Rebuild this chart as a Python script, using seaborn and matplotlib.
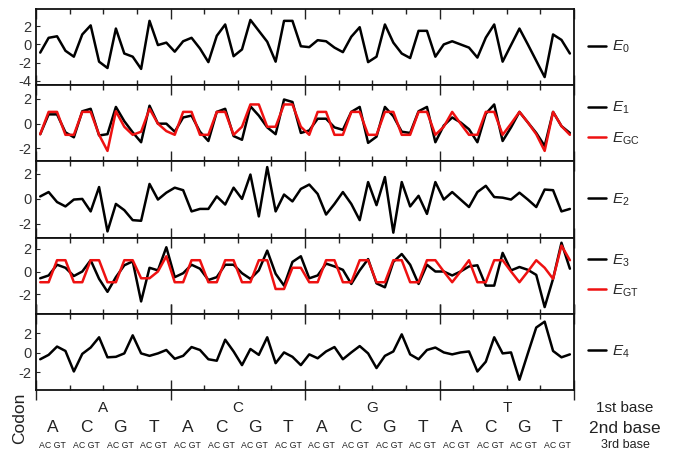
# Perfis de energia por códon (5 painéis empilhados)
import numpy as np
import pandas as pd
import matplotlib
matplotlib.use('Agg')
import matplotlib.pyplot as plt
import matplotlib.transforms as mtransforms
import seaborn as sns

bases = ['A', 'C', 'G', 'T']
codons = [b1 + b2 + b3 for b1 in bases for b2 in bases for b3 in bases]

e0 = [-0.9, 0.73, 0.9, -0.7, -1.35, 1.1, 2.1, -1.9, -2.6, 1.75,
      -1.0, -1.35, -2.7, 2.6, -0.07, 0.2, -0.8, 0.35, 0.73, -0.45,
      -1.95, 0.95, 2.2, -1.3, -0.55, 2.7, 1.5, 0.3, -1.9, 2.6,
      2.6, -0.2, -0.3, 0.47, 0.35, -0.35, -0.85, 0.85, 1.9, -1.95,
      -1.35, 2.2, 0.2, -1.0, -1.5, 1.5, 1.5, -1.35, 0.0, 0.35,
      0.0, -0.35, -1.45, 0.75, 2.2, -1.9, -0.07, 1.75, 0.0, -1.8,
      -3.6, 1.1, 0.5, -1.0]

e1 = [-0.85, 0.75, 0.75, -0.7, -1.1, 1.0, 1.2, -0.95, -0.85, 1.35,
      0.2, -0.7, -1.5, 1.45, 0.0, 0.0, -0.65, 0.5, 0.65, -0.65,
      -1.4, 0.95, 1.2, -1.0, -1.3, 1.4, 0.65, -0.3, -0.85, 1.95,
      1.75, -0.75, -0.55, 0.4, 0.4, -0.3, -0.5, 0.95, 1.35, -1.55,
      -1.05, 1.35, 0.6, -0.65, -0.75, 1.0, 1.35, -1.5, -0.15, 0.5,
      0.1, -0.45, -1.5, 0.8, 1.55, -1.4, -0.3, 0.95, 0.1, -0.75,
      -1.8, 0.95, -0.2, -0.75]

e_gc = [-0.85, 0.95, 0.95, -0.9, -0.9, 0.95, 0.95, -0.9, -2.2, 1.0,
        -0.25, -0.9, -0.65, 1.2, 0.0, -0.6, -0.9, 0.95, 0.95, -0.9,
        -0.9, 0.95, 0.95, -0.9, -0.25, 1.55, 1.55, -0.25, -0.25, 1.55,
        1.55, -0.25, -0.9, 0.95, 0.95, -0.9, -0.9, 0.95, 0.95, -0.9,
        -0.9, 0.95, 0.95, -0.9, -0.9, 0.95, 0.95, -0.9, -0.25, 0.95,
        0.0, -0.9, -0.9, 0.95, 0.95, -0.9, 0.0, 0.95, 0.1, -0.85,
        -2.2, 0.95, -0.2, -0.9]

e2 = [0.2, 0.55, -0.25, -0.6, -0.05, 0.0, -1.0, 0.95, -2.6, -0.4,
      -0.9, -1.7, -1.75, 1.2, -0.05, 0.5, 0.9, 0.7, -1.0, -0.8,
      -0.8, 0.2, -0.45, 0.9, 0.0, 1.95, -1.4, 2.55, -1.0, 0.35,
      -0.2, 0.8, 1.15, 0.4, -1.25, -0.4, 0.55, -0.4, -1.7, 1.35,
      -0.5, 1.75, -2.7, 1.35, -0.6, 0.25, -1.2, 1.35, -0.05, 0.55,
      -0.05, -0.65, 0.55, 1.05, 0.15, 0.1, -0.05, 0.5, -0.05, -0.65,
      0.75, 0.7, -1.0, -0.8]

e3 = [-0.6, -0.35, 0.6, 0.33, -0.4, 0.0, 1.0, -0.65, -1.8, -0.5,
      0.55, 0.9, -2.65, 0.33, 0.1, 2.15, -0.5, -0.15, 0.6, 0.25,
      -0.75, -0.5, 0.6, 0.6, -0.15, -0.65, 0.1, 1.85, -0.2, -1.25,
      0.85, 1.35, -0.6, -0.35, 0.7, 0.45, 0.15, -1.1, 0.1, 1.1,
      -1.05, -1.4, 0.85, 1.55, 0.6, -1.1, 0.6, 0.0, 0.0, -0.35,
      0.0, 0.45, 0.55, -1.25, -1.25, 1.65, 0.1, 0.4, 0.15, -0.3,
      -3.15, -0.65, 2.55, 0.25]

e_gt = [-0.95, -0.95, 1.0, 1.0, -0.95, -0.95, 1.0, 1.0, -0.95, -0.95,
        1.0, 1.0, -0.6, -0.6, 0.0, 1.35, -0.95, -0.95, 1.0, 1.0,
        -0.95, -0.95, 1.0, 1.0, -0.95, -0.95, 1.0, 1.0, -1.55, -1.55,
        0.33, 0.33, -0.95, -0.95, 1.0, 1.0, -0.95, -0.95, 1.0, 1.0,
        -0.95, -0.95, 1.0, 1.0, -0.95, -0.95, 1.0, 1.0, 0.0, -0.95,
        0.0, 1.0, -0.95, -0.95, 1.0, 1.0, 0.0, -0.95, 0.0, 1.0,
        0.33, -0.65, 2.3, 1.0]

e4 = [-0.65, -0.2, 0.65, 0.2, -1.9, -0.1, 0.55, 1.6, -0.45, -0.4,
      -0.05, 1.8, -0.05, -0.3, -0.05, 0.3, -0.6, -0.3, 0.6, 0.3,
      -0.65, -0.8, 1.35, 0.15, -1.25, 0.4, -0.2, 1.6, -1.05, 0.05,
      -0.4, -1.25, -0.15, -0.55, 0.15, 0.6, -0.65, 0.05, 0.7, -0.05,
      -1.55, -0.3, 0.15, 1.9, -0.15, -0.65, 0.3, 0.55, 0.05, -0.15,
      0.05, 0.15, -1.9, -0.9, 1.6, -0.05, 0.05, -2.75, -0.05, 2.6,
      3.2, 0.2, -0.45, -0.15]

dados = pd.DataFrame({'idx': np.arange(len(codons)), 'codon': codons,
                      'E0': e0, 'E1': e1, 'EGC': e_gc, 'E2': e2,
                      'E3': e3, 'EGT': e_gt, 'E4': e4})

PRETO = 'black'
VERMELHO = '#ee1111'

paineis = [
    ([('E0', r'$E_0$', PRETO)], (-4.5, 3.9), [-4, -2, 0, 2]),
    ([('E1', r'$E_1$', PRETO), ('EGC', r'$E_{\mathrm{GC}}$', VERMELHO)], (-3.05, 3.1), [-2, 0, 2]),
    ([('E2', r'$E_2$', PRETO)], (-3.1, 3.0), [-2, 0, 2]),
    ([('E3', r'$E_3$', PRETO), ('EGT', r'$E_{\mathrm{GT}}$', VERMELHO)], (-3.75, 3.0), [-2, 0, 2]),
    ([('E4', r'$E_4$', PRETO)], (-3.8, 4.0), [-2, 0, 2]),
]

sns.set_style('ticks')
plt.rcParams['font.family'] = ['Liberation Sans', 'DejaVu Sans']
plt.rcParams['mathtext.fontset'] = 'custom'
plt.rcParams['mathtext.rm'] = 'Liberation Sans'
plt.rcParams['mathtext.it'] = 'Liberation Sans:italic'
plt.rcParams['axes.unicode_minus'] = False

fig, axes = plt.subplots(5, 1, figsize=(6.81, 4.53), dpi=100, sharex=True)
fig.subplots_adjust(left=0.0529, right=0.843, top=0.980, bottom=0.139, hspace=0)

for ax, (series, ylim, yticks) in zip(axes, paineis):
    for col, label, cor in series:
        sns.lineplot(data=dados, x='idx', y=col, ax=ax, color=cor, lw=1.8, label=label)
    ax.set_xlim(-0.5, 63.5)
    ax.set_ylim(*ylim)
    ax.set_yticks(yticks)
    ax.set_xlabel('')
    ax.set_ylabel('')
    ax.set_xticks(np.arange(-0.5, 64, 16))
    ax.set_xticks(np.arange(3.5, 64, 4), minor=True)
    ax.tick_params(axis='x', which='both', direction='in', top=True, bottom=True,
                   labelbottom=False, width=1, color='#222222')
    ax.tick_params(axis='x', which='major', length=7)
    ax.tick_params(axis='x', which='minor', length=3.6)
    ax.tick_params(axis='y', direction='in', length=3, labelsize=10.5, pad=3,
                   labelcolor='#333333')
    for sp in ax.spines.values():
        sp.set_visible(True)
        sp.set_linewidth(1.3)
        sp.set_color('#111111')
    ax.legend(loc='center left', bbox_to_anchor=(1.0, 0.5), frameon=False,
              fontsize=11, handlelength=1.2, handletextpad=0.4,
              labelspacing=0.9, borderaxespad=0.5, borderpad=0.4)

# marcas maiores atravessando o eixo inferior
axes[-1].tick_params(axis='x', which='major', direction='inout', length=14)

# rótulos dos códons
trans = mtransforms.blended_transform_factory(axes[-1].transData, fig.transFigure)
for i, b in enumerate(bases):
    axes[-1].text(16 * i + 7.5, 1 - 408.5 / 453, b, transform=trans,
                  ha='center', va='center', fontsize=11, color='#222222')
for j in range(16):
    axes[-1].text(4 * j + 1.5, 1 - 428 / 453, bases[j % 4], transform=trans,
                  ha='center', va='center', fontsize=12.5, color='#222222')
    axes[-1].text(4 * j + 1.5, 1 - 446 / 453, 'AC GT', transform=trans,
                  ha='center', va='center', fontsize=6.3, color='#222222')

fig.text(20 / 681, 1 - 418 / 453, 'Codon', rotation=90, ha='center', va='center',
         fontsize=12.5, color='#222222')
fig.text(625 / 681, 1 - 408.5 / 453, '1st base', ha='center', va='center',
         fontsize=11, color='#222222')
fig.text(625 / 681, 1 - 428.5 / 453, '2nd base', ha='center', va='center',
         fontsize=12.5, color='#222222')
fig.text(625 / 681, 1 - 444.5 / 453, '3rd base', ha='center', va='center',
         fontsize=9, color='#222222')

fig.savefig('out.png', dpi=100)
